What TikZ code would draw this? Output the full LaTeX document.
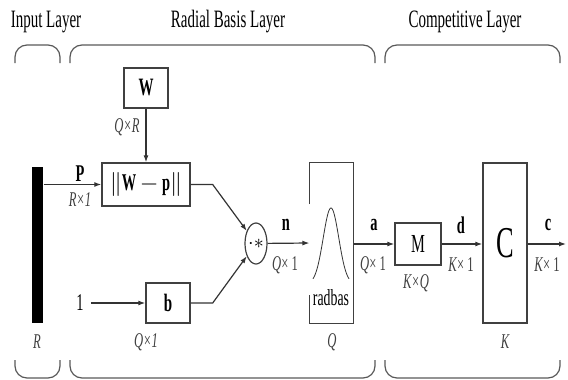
\documentclass[tikz,border=0pt]{standalone}
\usepackage{fontspec}
\setmainfont[FakeStretch=0.6]{Liberation Serif}
\usetikzlibrary{arrows.meta,calc,shapes.geometric}

\begin{document}
\begin{tikzpicture}[x=0.5pt, y=-0.5pt, line width=0.6pt, draw=black!80,
    box/.style={draw=black!75, line width=0.7pt, inner sep=0pt, font=\fontsize{12}{12}\selectfont},
    dim/.style={font=\fontsize{10.5}{10.5}\selectfont, text=black!75},
    sig/.style={font=\fontsize{12}{12}\selectfont\bfseries},
    seta/.style={-{Latex[length=3.5pt,width=2.5pt]}},
    chave/.style={draw=black!65, rounded corners=6pt}]
    \useasboundingbox (0,0) rectangle (568,380);

    % Camadas
    \node[font=\fontsize{12.5}{12.5}\selectfont] (tin) at (46,22) {Input Layer};
    \node[font=\fontsize{12.5}{12.5}\selectfont] (trb) at (228,22) {Radial Basis Layer};
    \node[font=\fontsize{12.5}{12.5}\selectfont] (tco) at (465,22) {Competitive Layer};
    \draw[chave] (15,63) -- (15,45) -- (60,45) -- (60,63);
    \draw[chave] (70,63) -- (70,45) -- (375,45) -- (375,63);
    \draw[chave] (385,63) -- (385,45) -- (560,45) -- (560,63);
    \draw[chave] (15,360) -- (15,378) -- (60,378) -- (60,360);
    \draw[chave] (70,360) -- (70,378) -- (375,378) -- (375,360);
    \draw[chave] (385,360) -- (385,378) -- (560,378) -- (560,360);

    % Blocos
    \node[fill=black, minimum width=5.5pt, minimum height=78pt, inner sep=0pt] (barra) at (37.5,245) {};
    \node[box, minimum width=22pt, minimum height=20pt, font=\fontsize{12.5}{12.5}\selectfont\bfseries] (W) at (146,88) {W};
    \node[box, minimum width=44pt, minimum height=21.5pt] (wp) at (146,184.5) {$\|$\textbf{W} $-$ \textbf{p}$\|$};
    \node[box, minimum width=22pt, minimum height=20pt, font=\fontsize{12.5}{12.5}\selectfont\bfseries] (b) at (168,303) {b};
    \node[font=\fontsize{12}{12}\selectfont] (um) at (80,303) {1};
    \node[draw=black!75, ellipse, minimum width=10.5pt, minimum height=20.5pt, inner sep=0pt] (mult) at (256,243.5) {$\cdot{*}$};
    \node[minimum width=21.5pt, minimum height=80pt, inner sep=0pt] (rad) at (331.5,243) {};
    \draw[draw=black!75, line width=0.7pt] ($(rad.west)+(0,-39)$) -- (rad.north west) -- (rad.north east)
        -- (rad.south east) -- (rad.south west) -- ($(rad.west)+(0,52)$);
    \draw[line width=0.4pt, domain=313:349, samples=50, smooth] plot (\x, {284-76*exp(-((\x-331)/11)^2)});
    \node[font=\fontsize{11.5}{11.5}\selectfont] (trad) at (331,298) {radbas};
    \node[box, minimum width=23pt, minimum height=21pt, font=\fontsize{13}{13}\selectfont] (M) at (418,244) {M};
    \node[box, minimum width=22pt, minimum height=80pt, font=\fontsize{22}{22}\selectfont] (C) at (505,243) {C};
    \coordinate (saida) at (566,244);

    % Conexoes
    \draw[seta] (barra.east |- wp.west) -- (wp.west);
    \draw[seta] (W) -- (wp);
    \draw[seta] (wp.east) -- ++(22,0) -- (mult);
    \draw[seta] (um) -- (b);
    \draw[seta] (b.east) -- ++(22,0) -- (mult);
    \draw[seta] (mult) -- (rad.west);
    \draw[seta] (rad.east |- M.west) -- (M.west);
    \draw[seta] (M.east) -- (C.west |- M.east);
    \draw[seta] (C.east |- saida) -- (saida);

    % Rotulos
    \node[sig] (lp) at (80,174) {P};
    \node[dim] (lpd) at (80,200) {\itshape R×1};
    \node[dim] (lwd) at (127,127) {\itshape Q×R};
    \node[dim] (lbd) at (146,342) {\itshape Q×1};
    \node[sig] (ln) at (286,225) {n};
    \node[dim] (lnd) at (285,265) {\textit{Q}× 1};
    \node[sig] (la) at (374,225) {a};
    \node[dim] (lad) at (373,265) {\textit{Q}× 1};
    \node[dim] (lmd) at (416,283) {\itshape K×Q};
    \node[sig] (ld) at (461,225) {d};
    \node[dim] (ldd) at (461,265) {\textit{K}× 1};
    \node[sig] (lc) at (548,225) {c};
    \node[dim] (lcd) at (547,265) {\textit{K}× 1};
    \node[dim] (lr) at (37,342) {\itshape R};
    \node[dim] (lq) at (332,342) {\itshape Q};
    \node[dim] (lk) at (505,342) {\itshape K};
\end{tikzpicture}
\end{document}
